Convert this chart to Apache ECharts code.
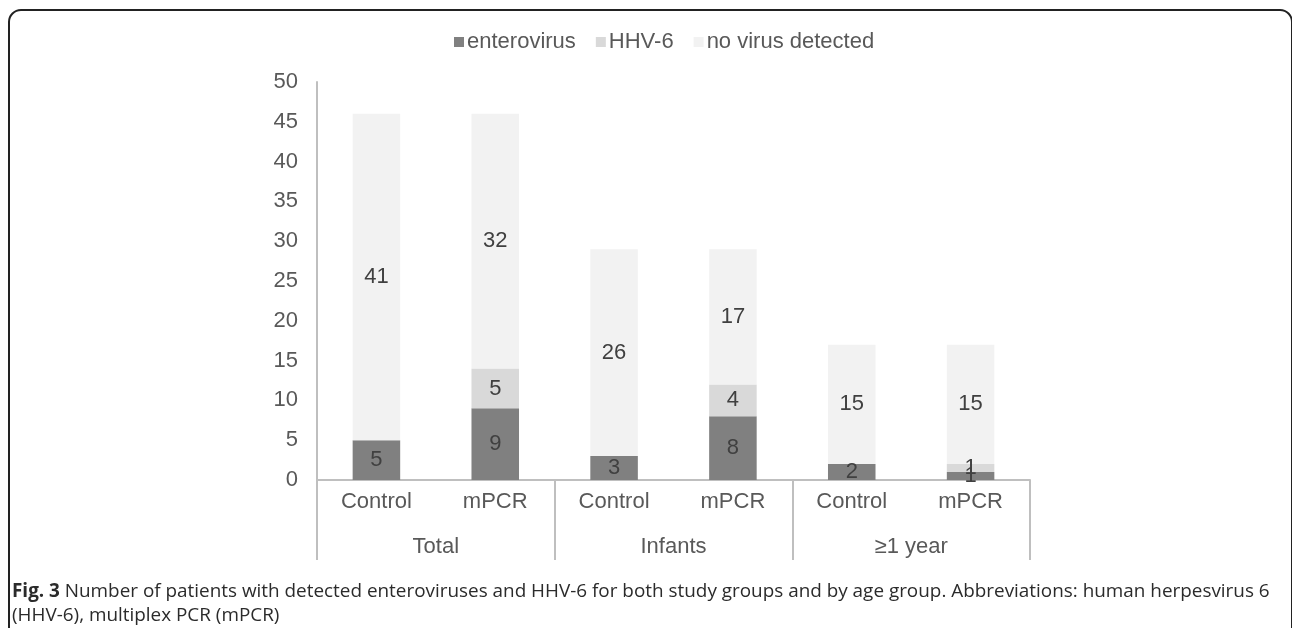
<!DOCTYPE html>
<html>
<head>
<meta charset="utf-8">
<script src="https://cdn.jsdelivr.net/npm/echarts@6/dist/echarts.min.js"></script>
<style>
html,body{margin:0;padding:0;background:#fff;}
#chart{width:1292px;height:628px;}
</style>
</head>
<body>
<div id="chart"></div>
<script>
const groups = ['Total', 'Infants', '≥1 year'];
const subCategories = ['Control', 'mPCR', 'Control', 'mPCR', 'Control', 'mPCR'];
const enterovirus = [5, 9, 3, 8, 2, 1];
const hhv6 = [0, 5, 0, 4, 0, 1];
const noVirus = [41, 32, 26, 17, 15, 15];
const yTicks = [0, 5, 10, 15, 20, 25, 30, 35, 40, 45, 50];
const captionBold = 'Fig. 3';
const captionLine1 = ' Number of patients with detected enteroviruses and HHV-6 for both study groups and by age group. Abbreviations: human herpesvirus 6';
const captionLine2 = '(HHV-6), multiplex PCR (mPCR)';

const chart = echarts.init(document.getElementById('chart'));
const font = 'Liberation Sans, Arial, sans-serif';
const labelCfg = {
  show: true,
  position: 'inside',
  color: '#404040',
  fontSize: 22,
  fontFamily: font,
  formatter: p => (p.value === 0 ? '' : p.value)
};
function mk(name, data, color) {
  return {
    name, type: 'bar', stack: 'a', data,
    barWidth: '40%',
    itemStyle: { color },
    label: labelCfg,
    emphasis: { disabled: true }
  };
}
chart.setOption({
  animation: false,
  textStyle: { fontFamily: font },
  legend: {
    top: 26,
    left: 449,
    itemWidth: 10,
    itemHeight: 10,
    itemGap: 20,
    icon: 'rect',
    textStyle: { fontSize: 22, color: '#595959', fontFamily: font, padding: [0, 0, 0, -2] },
    data: ['enterovirus', 'HHV-6', 'no virus detected']
  },
  grid: { left: 317, right: 262, top: 82, bottom: 148, containLabel: false },
  xAxis: [
    {
      type: 'category',
      data: subCategories,
      position: 'bottom',
      axisLine: { lineStyle: { color: '#bfbfbf', width: 2 } },
      axisTick: { show: false },
      axisLabel: { fontSize: 22, color: '#595959', margin: 11, fontFamily: font }
    },
    {
      type: 'category',
      data: groups,
      position: 'bottom',
      axisLine: { show: false },
      axisTick: { show: true, length: 80, lineStyle: { color: '#bfbfbf', width: 2 } },
      axisLabel: { fontSize: 22, color: '#595959', margin: 56, fontFamily: font }
    }
  ],
  yAxis: {
    type: 'value',
    min: 0, max: 50, interval: 5,
    axisLine: { show: true, lineStyle: { color: '#bfbfbf', width: 2 } },
    axisTick: { show: false },
    splitLine: { show: false },
    axisLabel: { fontSize: 22, color: '#595959', margin: 19, fontFamily: font,
      formatter: v => (yTicks.includes(v) ? String(v) : '') }
  },
  series: [
    mk('enterovirus', enterovirus, '#808080'),
    mk('HHV-6', hhv6, '#d9d9d9'),
    mk('no virus detected', noVirus, '#f2f2f2')
  ],
  graphic: [
    {
      type: 'rect', silent: true,
      shape: { x: 9, y: 10, width: 1283, height: 700, r: 12 },
      style: { fill: 'none', stroke: '#222', lineWidth: 2 }
    },
    {
      type: 'text', left: 12, top: 580,
      style: {
        text: '{b|' + captionBold + '}' + captionLine1 + '\n' + captionLine2,
        font: '18.9px "Open Sans", sans-serif',
        fill: '#2b2b2b',
        lineHeight: 24,
        rich: { b: { fontWeight: 'bold', fontSize: 18.9, fontFamily: 'Open Sans', fill: '#2b2b2b' } }
      }
    }
  ]
});
</script>
</body>
</html>
